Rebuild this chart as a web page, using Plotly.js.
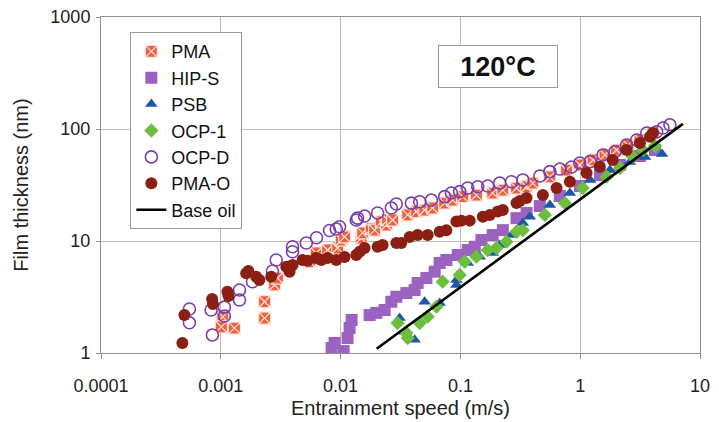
<!DOCTYPE html>
<html>
<head>
<meta charset="utf-8">
<script src="https://cdn.plot.ly/plotly-3.0.1.min.js"></script>
<style>html,body{margin:0;padding:0;background:#fff;}#chart{width:719px;height:422px;}</style>
</head>
<body>
<div id="chart"></div>
<script>
// ---- data (entrainment speed m/s, film thickness nm) ----
const pmaX = [0.00104,0.00101,0.00130,0.00232,0.00232,0.00281,0.00297,0.00551,0.00626,0.00779,0.00944,0.01013,0.0108,0.01489,0.01527,0.01804,0.01923,0.02188,0.0241,0.0247,0.02719,0.0363,0.04285,0.0503,0.0587,0.0739,0.0863,0.1045,0.136,0.186,0.226,0.294,0.3565,0.402,0.558,0.769,0.993,1.28,1.61,2.01,2.50,3.15,4.05];
const pmaY = [2.10,1.71,1.67,2.05,2.87,4.05,4.67,6.53,7.81,8.31,8.66,10.2,10.9,10.6,11.8,12.9,12.5,14.9,13.9,15.4,15.4,17.1,18.3,18.9,19.7,21.8,23.2,24.9,25.7,26.8,28.5,29.7,30.5,32.9,37.3,43.0,47.7,52.9,58.6,64.9,71.9,79.8,92.1];

const hipsX = [0.00841,0.0106,0.00891,0.01143,0.01189,0.01236,0.01746,0.01987,0.02332,0.02652,0.02919,0.0354,0.0415,0.04396,0.052,0.061,0.0671,0.0764,0.095,0.1151,0.1318,0.1498,0.186,0.226,0.294,0.3565,0.460,0.676,0.993,1.46,2.15,3.15,4.21];
const hipsY = [1.11,1.04,1.23,1.36,1.67,1.97,2.18,2.28,2.42,2.87,3.18,3.43,3.65,4.22,4.67,5.32,6.36,6.77,7.50,8.31,8.89,10.2,11.3,12.5,16.0,17.8,20.5,25.2,31.0,38.8,47.7,57.4,64.9];

const psbX = [0.0311,0.0343,0.0415,0.0503,0.0671,0.0926,0.0926,0.1151,0.145,0.186,0.213,0.267,0.332,0.380,0.558,0.820,1.21,1.77,2.60,3.48,4.82];
const psbY = [2.05,1.55,1.31,2.87,2.79,4.05,4.48,6.36,7.24,7.81,9.21,11.3,14.5,16.5,21.0,26.8,35.1,43.0,50.7,56.2,59.8];

const ocp1X = [0.0299,0.0354,0.0363,0.0457,0.0533,0.0631,0.0711,0.0986,0.1087,0.136,0.169,0.200,0.2425,0.294,0.332,0.507,0.745,1.05,1.66,2.15,2.75,3.34,4.21];
const ocp1Y = [1.85,1.51,1.36,1.85,2.11,2.59,4.33,4.97,6.53,7.24,8.31,8.66,9.86,12.1,12.5,17.1,21.8,29.7,37.5,44.9,56.6,64.9,70.5];

const ocpdX = [0.000547,0.000547,0.000830,0.000851,0.001072,0.001072,0.001432,0.001432,0.001838,0.00270,0.00290,0.00397,0.00397,0.00517,0.00630,0.00809,0.00920,0.00980,0.01352,0.01387,0.01585,0.02037,0.02652,0.02919,0.03899,0.04571,0.05725,0.0739,0.0841,0.0986,0.1151,0.1396,0.169,0.213,0.267,0.332,0.460,0.558,0.676,0.847,0.993,1.21,1.55,1.95,2.44,2.96,3.59,4.35,4.91,5.61];
const ocpdY = [2.47,1.86,2.42,1.45,2.57,2.14,3.65,2.97,4.33,5.40,6.77,8.89,8.02,9.60,10.7,12.4,12.8,13.4,15.4,16.0,16.7,17.8,19.7,21.4,21.8,22.4,23.2,24.9,26.8,27.6,29.7,30.5,31.0,32.9,33.8,35.1,38.0,41.6,43.9,45.8,49.7,51.1,58.6,62.7,71.9,79.8,92.1,94.6,102,109];

const pmaoX = [0.000478,0.000497,0.000847,0.00086,0.001136,0.001159,0.001629,0.00170,0.001974,0.00210,0.002635,0.00352,0.00375,0.00397,0.00481,0.00530,0.00626,0.00690,0.00779,0.00920,0.0108,0.01352,0.01442,0.01585,0.02037,0.02244,0.02919,0.0321,0.03772,0.04396,0.05333,0.06714,0.0764,0.0926,0.102,0.1197,0.1538,0.1758,0.2051,0.226,0.294,0.313,0.3565,0.488,0.635,0.820,1.13,1.46,1.87,2.44,3.15,3.82,4.05];
const pmaoY = [1.23,2.18,3.03,2.74,3.53,3.23,5.15,5.40,4.80,4.48,4.80,5.90,5.32,6.11,6.77,6.67,7.05,6.77,7.05,6.77,7.20,7.50,8.02,8.66,8.89,9.21,9.60,9.60,10.86,11.3,11.3,12.1,12.5,14.9,15.2,15.2,16.5,17.1,18.3,18.9,21.8,22.8,24.2,25.7,29.7,33.8,40.5,46.1,52.9,64.9,75.0,85.4,92.1];

const baseX = [0.020, 7.2];
const baseY = [1.09, 111];

const xTicks = [0.0001, 0.001, 0.01, 0.1, 1, 10];
const xTickText = ['0.0001', '0.001', '0.01', '0.1', '1', '10'];
const yTicks = [1, 10, 100, 1000];
const yTickText = ['1', '10', '100', '1000'];

const FONT = 'Liberation Sans, Arial, sans-serif';

const traces = [
  {name:'PMA', x:pmaX, y:pmaY, mode:'markers', type:'scatter',
   marker:{symbol:'square-x', size:12, color:'#F0603F', line:{color:'#FFE4DC', width:1.2}}},
  {name:'HIP-S', x:hipsX, y:hipsY, mode:'markers', type:'scatter',
   marker:{symbol:'square', size:12, color:'#9B62C0'}},
  {name:'PSB', x:psbX, y:psbY, mode:'markers', type:'scatter',
   marker:{symbol:'triangle-up', size:11, color:'#1F56A8'}},
  {name:'OCP-1', x:ocp1X, y:ocp1Y, mode:'markers', type:'scatter',
   marker:{symbol:'diamond', size:11, color:'#6DBE3F'}},
  {name:'OCP-D', x:ocpdX, y:ocpdY, mode:'markers', type:'scatter',
   marker:{symbol:'circle-open', size:12, color:'#7A3EAA', line:{width:1.6}}},
  {name:'PMA-O', x:pmaoX, y:pmaoY, mode:'markers', type:'scatter',
   marker:{symbol:'circle', size:12, color:'#8C1F14'}},
  {name:'Base oil', x:baseX, y:baseY, mode:'lines', type:'scatter',
   line:{color:'#000000', width:2.6}}
];

const layout = {
  width:719, height:422,
  margin:{l:101, r:19, t:17, b:69},
  paper_bgcolor:'#ffffff', plot_bgcolor:'#ffffff',
  font:{family:FONT, color:'#222222', size:18},
  showlegend:true,
  legend:{x:0.049, y:0.955, xanchor:'left', yanchor:'top',
          bgcolor:'#ffffff', bordercolor:'#9a9a9a', borderwidth:1,
          font:{family:FONT, size:18, color:'#111111'}, tracegroupgap:0},
  xaxis:{type:'log', range:[-4, 1], tickvals:xTicks, ticktext:xTickText,
         showgrid:true, gridcolor:'#bdbdbd', gridwidth:1,
         showline:true, linecolor:'#8f8f8f', linewidth:1, mirror:true,
         ticks:'outside', ticklen:5, tickcolor:'#8f8f8f', ticklabelstandoff:11,
         zeroline:false,
         tickfont:{family:FONT, size:18, color:'#222'},
         title:{text:'Entrainment speed (m/s)', font:{family:FONT, size:20, color:'#222'}, standoff:6}},
  yaxis:{type:'log', range:[0, 3], tickvals:yTicks, ticktext:yTickText,
         showgrid:true, gridcolor:'#bdbdbd', gridwidth:1,
         showline:true, linecolor:'#8f8f8f', linewidth:1, mirror:true,
         ticks:'outside', ticklen:4, tickcolor:'#8f8f8f', ticklabelstandoff:2,
         zeroline:false,
         tickfont:{family:FONT, size:18, color:'#222'},
         title:{text:'Film thickness (nm)', font:{family:FONT, size:20, color:'#222'}, standoff:16}},
  annotations:[
    {text:'<b>120°C</b>', xref:'paper', yref:'paper', x:0.6625, y:0.853,
     xanchor:'center', yanchor:'middle', showarrow:false,
     width:116, height:39, align:'center', valign:'middle',
     bgcolor:'#ffffff', bordercolor:'#9a9a9a', borderwidth:1,
     font:{family:FONT, size:27, color:'#111111'}}
  ]
};

Plotly.newPlot('chart', traces, layout, {displayModeBar:false, staticPlot:true});
</script>
</body>
</html>
